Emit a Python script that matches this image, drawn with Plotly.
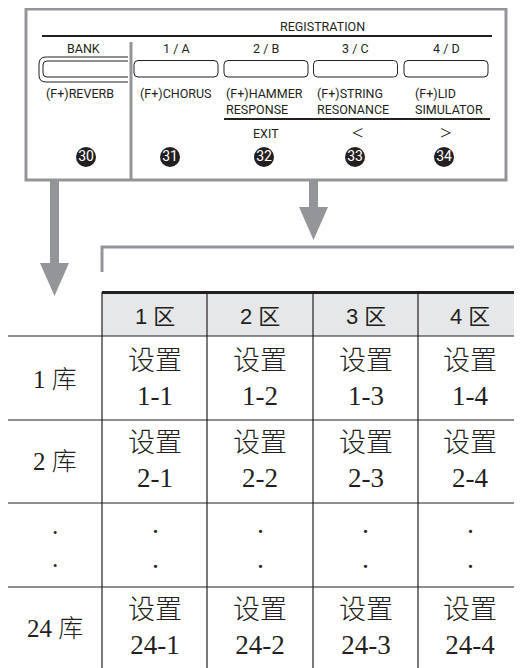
import plotly.graph_objects as go

# ---- content ----
panel_title = "REGISTRATION"
button_labels = ["BANK", "1 / A", "2 / B", "3 / C", "4 / D"]
func_labels = ["(F+)REVERB", "(F+)CHORUS", "(F+)HAMMER<br>RESPONSE", "(F+)STRING<br>RESONANCE", "(F+)LID<br>SIMULATOR"]
alt_labels = ["", "", "EXIT", "<", ">"]
button_numbers = ["30", "31", "32", "33", "34"]
zone_headers = ["1 区", "2 区", "3 区", "4 区"]
bank_labels = ["1 库", "2 库", "·<br>·", "24 库"]
cell_texts = [
    ["设置<br>1-1", "设置<br>1-2", "设置<br>1-3", "设置<br>1-4"],
    ["设置<br>2-1", "设置<br>2-2", "设置<br>2-3", "设置<br>2-4"],
    ["·<br>·", "·<br>·", "·<br>·", "·<br>·"],
    ["设置<br>24-1", "设置<br>24-2", "设置<br>24-3", "设置<br>24-4"],
]

# ---- layout geometry (page pixel coordinates) ----
W, H = 522, 668
OFF = 8  # page body margin
GRAY = "#939598"
INK = "#231f20"
HEADER_BG = "#e6e7e8"
btn_cx = [83, 176, 266, 355.5, 446]
btn_num_x = [86, 170, 264, 355, 444]
col_edges = [102, 207, 313, 418, 530]
row_edges = [336, 420, 503, 587, 680]

shapes = []
annos = []

def rrect(x0, y0, x1, y1, r):
    return (f"M{x0+r},{y0} L{x1-r},{y0} Q{x1},{y0} {x1},{y0+r} L{x1},{y1-r} Q{x1},{y1} {x1-r},{y1} "
            f"L{x0+r},{y1} Q{x0},{y1} {x0},{y1-r} L{x0},{y0+r} Q{x0},{y0} {x0+r},{y0} Z")

def line(x0, y0, x1, y1, color, w):
    shapes.append(dict(type="line", x0=x0, y0=y0, x1=x1, y1=y1, line=dict(color=color, width=w)))

def text(x, y, s, size, family, color=INK, xanchor="center", yanchor="middle", align="center", weight="normal"):
    annos.append(dict(x=x, y=y, text=s, showarrow=False, xanchor=xanchor, yanchor=yanchor, align=align,
                      font=dict(size=size, family=family, color=color, weight=weight)))

SANS = "Roboto, Noto Sans, sans-serif"
TS = 12.5

# panel border
shapes.append(dict(type="rect", x0=26, y0=9, x1=506, y1=180, line=dict(color=GRAY, width=3)))
line(131, 42, 131, 180, GRAY, 3)
text(322, 26, panel_title, TS, SANS)
line(42, 36, 492, 36, INK, 2)
line(224, 119, 490, 119, INK, 2)

for i, lab in enumerate(button_labels):
    text(btn_cx[i], 48, lab, TS, SANS)

# buttons
shapes.append(dict(type="path", path="M128,57 L46,57 Q39,57 39,64 L39,75 Q39,82 46,82 L128,82",
                   line=dict(color=INK, width=1)))
shapes.append(dict(type="path", path="M128,61 L47,61 Q43,61 43,65 L43,73 Q43,77 47,77 L128,77",
                   line=dict(color=INK, width=1)))
for cx in btn_cx[1:]:
    shapes.append(dict(type="path", path=rrect(cx - 42, 60.5, cx + 42, 77, 4), line=dict(color=INK, width=1)))

# function labels
text(80, 93, func_labels[0], TS, SANS)
func_left = [138, 224, 315, 413]
for i in range(1, 5):
    text(func_left[i - 1], 84, func_labels[i], TS, SANS, xanchor="left", yanchor="top", align="left")

text(266, 133, alt_labels[2], TS, SANS)
text(357, 132, alt_labels[3], 20, "Noto Sans, sans-serif", weight=300)
text(445, 132, alt_labels[4], 20, "Noto Sans, sans-serif", weight=300)

fig = go.Figure()
fig.add_trace(go.Scatter(x=btn_num_x, y=[157] * 5, mode="markers+text", text=button_numbers,
                         textposition="middle center",
                         textfont=dict(color="white", size=14, family="Liberation Sans Narrow, Roboto"),
                         marker=dict(size=20, color=INK), hoverinfo="skip"))

# arrows
shapes.append(dict(type="rect", x0=50, y0=181, x1=59, y1=264, fillcolor=GRAY, line=dict(width=0)))
shapes.append(dict(type="path", path="M40,263 L69,263 L54.5,296 Z", fillcolor=GRAY, line=dict(width=0)))
shapes.append(dict(type="rect", x0=309, y0=181, x1=318, y1=208, fillcolor=GRAY, line=dict(width=0)))
shapes.append(dict(type="path", path="M299,207 L328,207 L313.5,240 Z", fillcolor=GRAY, line=dict(width=0)))
# bracket
shapes.append(dict(type="path", path="M102,272 L102,247 L530,247", line=dict(color=GRAY, width=3)))

# table
shapes.append(dict(type="rect", x0=102, y0=292, x1=530, y1=336, fillcolor=HEADER_BG, line=dict(width=0), layer="below"))
line(102, 292.5, 530, 292.5, INK, 3)
for x in col_edges[:-1]:
    line(x, 292, x, 680, INK, 1.2)
for y in row_edges[:-1]:
    line(8, y, 530, y, INK, 1.2)

HEAD_FONT = "Liberation Sans, Noto Sans CJK SC"
CELL_FONT = "Liberation Serif, Noto Sans CJK SC"
col_cx = [155, 260, 365.5, 470]
row_cy = [378, 460, 549, 627]
for j, h in enumerate(zone_headers):
    text(col_cx[j], 316, h, 22, HEAD_FONT)
for i, b in enumerate(bank_labels):
    text(55, row_cy[i] + (1 if i != 2 else 0), b, 25, CELL_FONT, weight=300)
    for j in range(4):
        text(col_cx[j], row_cy[i], cell_texts[i][j], 27, CELL_FONT, weight=300)

fig.update_layout(
    width=W, height=H, margin=dict(l=0, r=0, t=0, b=0),
    paper_bgcolor="white", plot_bgcolor="white", showlegend=False,
    xaxis=dict(range=[OFF, W + OFF], visible=False, fixedrange=True),
    yaxis=dict(range=[H + OFF, OFF], visible=False, fixedrange=True),
    shapes=shapes, annotations=annos,
)
fig.write_html("out.html")
